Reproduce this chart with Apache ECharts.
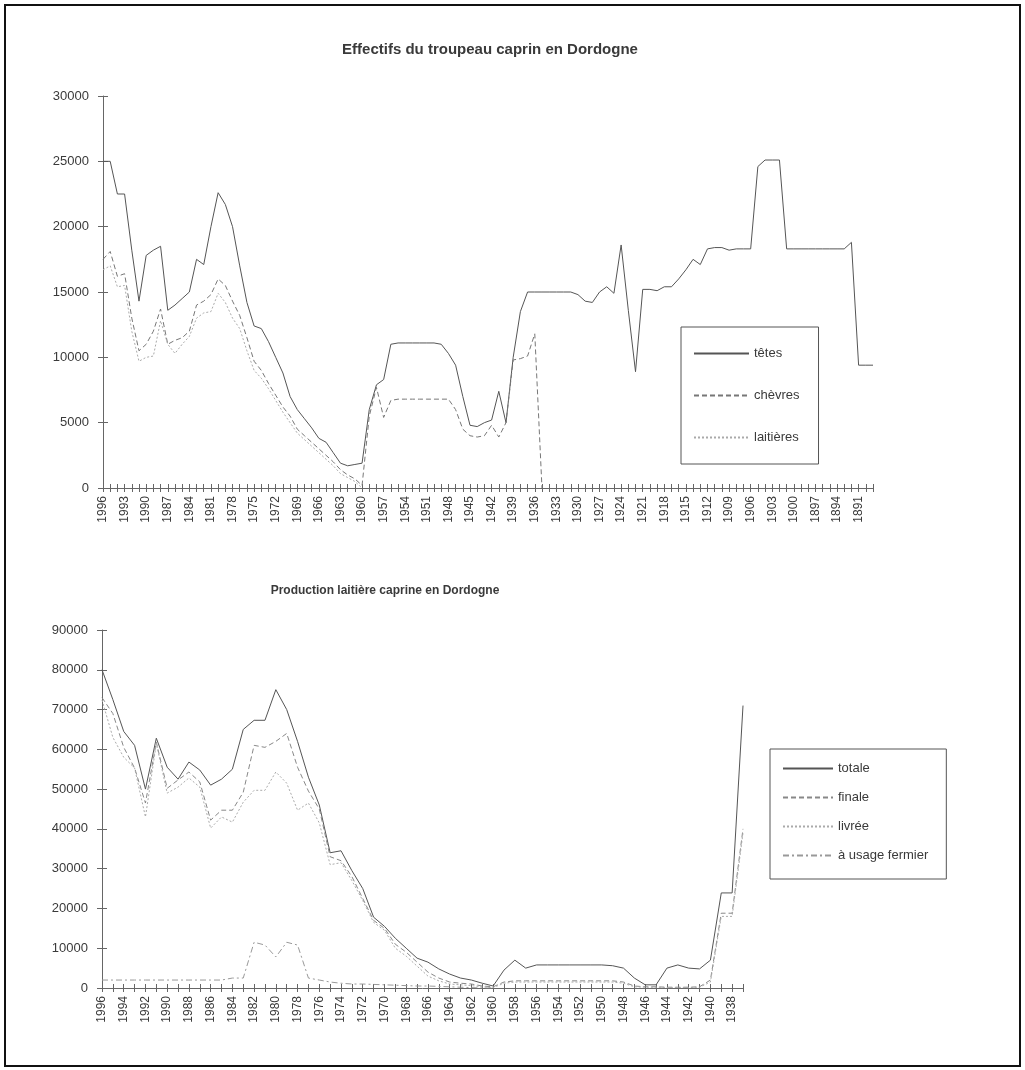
<!DOCTYPE html>
<html>
<head>
<meta charset="utf-8">
<script src="https://cdn.jsdelivr.net/npm/echarts@6/dist/echarts.min.js"></script>
<style>
  html, body { margin: 0; padding: 0; background: #fff; }
  #frame { position: absolute; left: 4px; top: 4px; width: 1013px; height: 1059px; border: 2px solid #111; }
  #main { position: absolute; left: 0; top: 0; width: 1025px; height: 1070px; }
</style>
</head>
<body>
<div id="frame"></div>
<div id="main"></div>
<script>
// ---- données : effectifs du troupeau (1996 -> 1889)
var anneesTroupeau = [
  1996, 1995, 1994, 1993, 1992, 1991, 1990, 1989, 1988, 1987,
  1986, 1985, 1984, 1983, 1982, 1981, 1980, 1979, 1978, 1977,
  1976, 1975, 1974, 1973, 1972, 1971, 1970, 1969, 1968, 1967,
  1966, 1965, 1964, 1963, 1962, 1961, 1960, 1959, 1958, 1957,
  1956, 1955, 1954, 1953, 1952, 1951, 1950, 1949, 1948, 1947,
  1946, 1945, 1944, 1943, 1942, 1941, 1940, 1939, 1938, 1937,
  1936, 1935, 1934, 1933, 1932, 1931, 1930, 1929, 1928, 1927,
  1926, 1925, 1924, 1923, 1922, 1921, 1920, 1919, 1918, 1917,
  1916, 1915, 1914, 1913, 1912, 1911, 1910, 1909, 1908, 1907,
  1906, 1905, 1904, 1903, 1902, 1901, 1900, 1899, 1898, 1897,
  1896, 1895, 1894, 1893, 1892, 1891, 1890, 1889
];
var tetes = [
  25000, 25000, 22500, 22500, 18200, 14300, 17800, 18200, 18500, 13600,
  14000, 14500, 15000, 17500, 17100, 20000, 22600, 21700, 20000, 17000,
  14200, 12400, 12200, 11200, 10000, 8800, 7000, 6000, 5300, 4600,
  3800, 3500, 2700, 1900, 1700, 1800, 1900, 6000, 7900, 8300,
  11000, 11100, 11100, 11100, 11100, 11100, 11100, 11000, 10300, 9400,
  7000, 4800, 4700, 5000, 5200, 7400, 5000, 10000, 13500, 15000,
  15000, 15000, 15000, 15000, 15000, 15000, 14800, 14300, 14200, 15000,
  15400, 14900, 18600, 13600, 8900, 15200, 15200, 15100, 15400, 15400,
  16000, 16700, 17500, 17100, 18300, 18400, 18400, 18200, 18300, 18300,
  18300, 24600, 25100, 25100, 25100, 18300, 18300, 18300, 18300, 18300,
  18300, 18300, 18300, 18300, 18800, 9400, 9400, 9400
];
var chevres = [
  17500, 18100, 16200, 16400, 13000, 10500, 11000, 12000, 13700, 11000,
  11300, 11500, 12000, 14000, 14300, 14800, 16000, 15500, 14300, 13200,
  11500, 9700, 9000, 8000, 7100, 6200, 5500, 4500, 4000, 3500,
  3000, 2500, 2000, 1400, 1000, 700, 200, 5500, 7700, 5400,
  6700, 6800, 6800, 6800, 6800, 6800, 6800, 6800, 6800, 6000,
  4500, 4000, 3900, 4000, 4800, 3900, 5000, 9800, 9900, 10100,
  11800, 0
];
var laitieres = [
  16700, 17000, 15400, 15500, 12000, 9700, 10000, 10100, 12800, 11000,
  10300, 11000, 11600, 13000, 13400, 13500, 14900, 14200, 13000, 12200,
  10500, 9000, 8400, 7600, 6700, 5800, 5000, 4200, 3700, 3200,
  2700, 2200, 1700, 1100, 800, 500, 0
];

// ---- données : production laitière (1996 -> 1937)
var anneesLait = [
  1996, 1995, 1994, 1993, 1992, 1991, 1990, 1989, 1988, 1987,
  1986, 1985, 1984, 1983, 1982, 1981, 1980, 1979, 1978, 1977,
  1976, 1975, 1974, 1973, 1972, 1971, 1970, 1969, 1968, 1967,
  1966, 1965, 1964, 1963, 1962, 1961, 1960, 1959, 1958, 1957,
  1956, 1955, 1954, 1953, 1952, 1951, 1950, 1949, 1948, 1947,
  1946, 1945, 1944, 1943, 1942, 1941, 1940, 1939, 1938, 1937
];
var totale = [
  80000, 72500, 64500, 61000, 50000, 62800, 55500, 52500, 56800, 54800,
  51000, 52500, 55000, 65000, 67300, 67300, 75000, 70000, 62000, 53000,
  46000, 34000, 34500, 29500, 25000, 17800, 15500, 12500, 10000, 7500,
  6500, 4800, 3500, 2500, 2000, 1200, 500, 4500, 7000, 5000,
  5800, 5800, 5800, 5800, 5800, 5800, 5800, 5600, 5000, 2500,
  800, 800, 5000, 5800, 5000, 4800, 7000, 23900, 23900, 71000
];
var finale = [
  73000, 69000, 60500, 55300, 46500, 61800, 50200, 52300, 54300, 51800,
  42200, 44700, 44700, 49200, 61000, 60500, 62000, 64000, 55500, 49500,
  45000, 33000, 32000, 28000, 22500, 17000, 15000, 11000, 9000, 6500,
  4000, 2500, 1500, 1200, 1000, 500, 300, 1500, 1800, 1800,
  1800, 1800, 1800, 1800, 1800, 1800, 1800, 1800, 1500, 500,
  300, 300, 200, 200, 200, 300, 2000, 18800, 18800, 40000
];
var livree = [
  72400, 63000, 58000, 55300, 43000, 61500, 49000, 50500, 52800, 50500,
  40200, 43000, 41700, 46700, 49700, 49700, 54300, 51500, 44700, 46500,
  41500, 31000, 31500, 27000, 22000, 16500, 14500, 10000, 8000, 5500,
  3000, 1800, 1000, 800, 600, 300, 100, 1200, 1500, 1500,
  1500, 1500, 1500, 1500, 1500, 1500, 1500, 1500, 1200, 300,
  200, 200, 100, 100, 100, 200, 1500, 18000, 18000, 39000
];
var usageFermier = [
  2000, 2000, 2000, 2000, 2000, 2000, 2000, 2000, 2000, 2000,
  2000, 2000, 2500, 2500, 11500, 10800, 7800, 11500, 10800, 2500,
  2000, 1500, 1200, 1000, 1000, 900, 800, 700, 600, 500,
  500, 400, 300, 200, 100, 0, 0
];

var txt = '#3a3a3a';
var axisCol = '#666';
var font = 'Liberation Sans, Arial, sans-serif';

// axe des années ; le doublon "inside" sert à faire des graduations qui traversent l'axe
function catAxis(gridIndex, data, labelInterval, inside) {
  return {
    type: 'category', gridIndex: gridIndex, position: 'bottom', data: data.map(String), boundaryGap: false,
    axisLine: { show: !inside, lineStyle: { color: axisCol, width: 1 } },
    axisTick: { show: true, inside: inside, length: 4, interval: 0, lineStyle: { color: axisCol } },
    axisLabel: { show: !inside, rotate: 90, interval: labelInterval, fontSize: 12, color: txt, fontFamily: font, margin: 8 },
    splitLine: { show: false }
  };
}
function valAxis(gridIndex, max, interval, inside) {
  return {
    type: 'value', gridIndex: gridIndex, position: 'left', min: 0, max: max, interval: interval,
    axisLine: { show: !inside, lineStyle: { color: axisCol } },
    axisTick: { show: true, inside: inside, length: 5, lineStyle: { color: axisCol } },
    axisLabel: { show: !inside, fontSize: 13, color: txt, fontFamily: font, margin: 14,
      formatter: function (v) { return String(v); } },
    splitLine: { show: false }
  };
}
function serie(name, data, xi, color, type, width) {
  return {
    name: name, type: 'line', data: data, xAxisIndex: xi, yAxisIndex: xi,
    symbol: 'none', connectNulls: false,
    lineStyle: { color: color, width: width || 1, type: type },
    itemStyle: { color: color }
  };
}

var myChart = echarts.init(document.getElementById('main'));
var option = {
  animation: false,
  title: [
    { text: 'Effectifs du troupeau caprin en Dordogne', left: 485, top: 37, textAlign: 'center',
      textStyle: { fontSize: 15, fontWeight: 'bold', color: txt, fontFamily: font } },
    { text: 'Production laitière caprine en Dordogne', left: 380, top: 580, textAlign: 'center',
      textStyle: { fontSize: 12, fontWeight: 'bold', color: txt, fontFamily: font } }
  ],
  grid: [
    { left: 103, top: 96, width: 770, height: 392 },
    { left: 102, top: 630, width: 641, height: 358 }
  ],
  legend: [
    { orient: 'vertical', left: 681, top: 327, padding: [20, 19, 20, 12], itemGap: 29,
      itemWidth: 55, itemHeight: 14, borderColor: '#555', borderWidth: 1,
      itemStyle: { opacity: 0 },
      textStyle: { fontSize: 13, color: txt, fontFamily: font },
      data: ['têtes', 'chèvres', 'laitières'] },
    { orient: 'vertical', left: 770, top: 749, padding: [13, 18, 17, 12], itemGap: 16,
      itemWidth: 50, itemHeight: 14, borderColor: '#555', borderWidth: 1,
      itemStyle: { opacity: 0 },
      textStyle: { fontSize: 13, color: txt, fontFamily: font },
      data: ['totale', 'finale', 'livrée', 'à usage fermier'] }
  ],
  xAxis: [
    catAxis(0, anneesTroupeau, 2, false),
    catAxis(0, anneesTroupeau, 2, true),
    catAxis(1, anneesLait, 1, false),
    catAxis(1, anneesLait, 1, true)
  ],
  yAxis: [
    valAxis(0, 30000, 5000, false),
    valAxis(0, 30000, 5000, true),
    valAxis(1, 90000, 10000, false),
    valAxis(1, 90000, 10000, true)
  ],
  series: [
    serie('têtes', tetes, 0, '#555'),
    serie('chèvres', chevres, 0, '#777', [5, 3]),
    serie('laitières', laitieres, 0, '#aaa', [2, 2]),
    serie('totale', totale, 2, '#555'),
    serie('finale', finale, 2, '#888', [5, 3]),
    serie('livrée', livree, 2, '#aaa', [2, 2]),
    serie('à usage fermier', usageFermier, 2, '#999', [6, 3, 2, 3])
  ]
};
myChart.setOption(option);
</script>
</body>
</html>
